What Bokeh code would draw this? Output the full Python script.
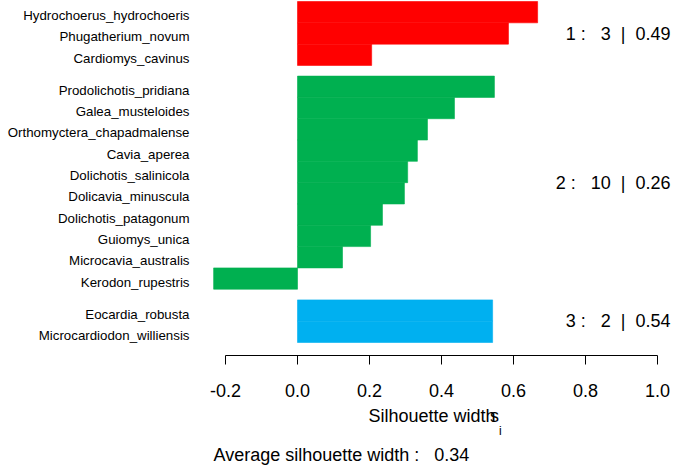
from bokeh.plotting import figure
from bokeh.models import Range1d, FixedTicker, ColumnDataSource
from bokeh.core.properties import value
from bokeh.embed import file_html
from bokeh.resources import INLINE

# ---- data ----
names_c1 = ["Hydrochoerus_hydrochoeris", "Phugatherium_novum", "Cardiomys_cavinus"]
sil_c1 = [0.667, 0.586, 0.206]

names_c2 = ["Prodolichotis_pridiana", "Galea_musteloides", "Orthomyctera_chapadmalense",
            "Cavia_aperea", "Dolichotis_salinicola", "Dolicavia_minuscula",
            "Dolichotis_patagonum", "Guiomys_unica", "Microcavia_australis",
            "Kerodon_rupestris"]
sil_c2 = [0.547, 0.436, 0.361, 0.333, 0.306, 0.297, 0.236, 0.203, 0.125, -0.233]

names_c3 = ["Eocardia_robusta", "Microcardiodon_williensis"]
sil_c3 = [0.542, 0.542]

cluster_ids = [1, 2, 3]
cluster_sizes = [3, 10, 2]
cluster_avg = ["0.49", "0.26", "0.54"]
overall_avg = "0.34"
cluster_colors = ["#FF0000", "#00B050", "#00B0F0"]

x_ticks = [-0.2, 0.0, 0.2, 0.4, 0.6, 0.8, 1.0]
x_tick_labels = ["-0.2", "0.0", "0.2", "0.4", "0.6", "0.8", "1.0"]
x_title = "Silhouette width"

# ---- layout ----
FONT = "Liberation Sans"
W, H = 673, 467
NB = "\u00a0"
U = 341 / 16.0          # pixels per bar unit
AXIS_Y = 354 / U        # axis line location in bar units
BIG_SHIFT = 7.5         # baseline correction for 18px texts (px)

clusters = [(names_c1, sil_c1), (names_c2, sil_c2), (names_c3, sil_c3)]
ys, names, vals, cols, centers = [], [], [], [], []
pos = 0.0
for k, (nm, sv) in enumerate(clusters):
    start = pos
    for n, s in zip(nm, sv):
        ys.append(pos + 0.5)
        names.append(n)
        vals.append(s)
        cols.append(cluster_colors[k])
        pos += 1
    centers.append((start + pos) / 2)
    pos += 0.5

src = ColumnDataSource(dict(y=ys, name=names, val=vals, color=cols,
                            ly=[y + 3.5 / U for y in ys]))

p = figure(width=W, height=H,
           x_range=Range1d(-297 / 360, (W - 297) / 360),
           y_range=Range1d((H - 1) / U, -1 / U),
           output_backend="svg", toolbar_location=None, y_axis_location=None,
           min_border_left=0, min_border_right=0, min_border_top=0,
           min_border_bottom=0)
p.outline_line_color = None
p.xgrid.visible = False
p.ygrid.visible = False
p.background_fill_color = "white"
p.border_fill_color = "white"

p.hbar(y="y", left=0, right="val", height=1, fill_color="color",
       line_color="color", line_width=0.6, source=src)

p.text(x=-0.3, y="ly", text="name", source=src, text_align="right",
       text_baseline="alphabetic", text_font=value(FONT), text_font_size="13.3px",
       text_color="#000000")

clabels = []
for cid, n, a in zip(cluster_ids, cluster_sizes, cluster_avg):
    clabels.append(f"{cid}{NB}:{NB}{NB}{NB}{n}{NB}{NB}|{NB}{NB}{a}")
p.text(x=[(670 - 297) / 360] * 3, y=[c + (7.6 - BIG_SHIFT) / U for c in centers],
       text=clabels, text_align="right", text_baseline="alphabetic",
       text_font=value(FONT), text_font_size="18px", text_color="#000000")

ax = p.xaxis[0]
ax.fixed_location = AXIS_Y
ax.bounds = (-0.2, 1.0)
ax.ticker = FixedTicker(ticks=x_ticks)
ax.major_label_overrides = {t: l for t, l in zip(x_ticks, x_tick_labels)}
ax.minor_tick_line_color = None
ax.major_tick_in = 0
ax.major_tick_out = 9
ax.major_label_standoff = 19
ax.major_label_text_font = FONT
ax.major_label_text_font_size = "18px"
ax.major_label_text_color = "#000000"
ax.axis_line_color = "#000000"
ax.major_tick_line_color = "#000000"

# axis title "Silhouette width s_i" (as drawn by R, with the s overlapping)
p.text(x=[(368 - 297) / 360], y=[(422 - BIG_SHIFT) / U], text=[x_title],
       text_align="left", text_baseline="alphabetic", text_font=value(FONT),
       text_font_size="18px", text_color="#000000")
p.text(x=[(489.5 - 297) / 360], y=[(422 - BIG_SHIFT) / U], text=["s"],
       text_align="left", text_baseline="alphabetic", text_font=value(FONT),
       text_font_size="18px", text_color="#000000")
p.text(x=[(498.5 - 297) / 360], y=[(434 - 5.0) / U], text=["i"],
       text_align="left", text_baseline="alphabetic", text_font=value(FONT),
       text_font_size="12px", text_color="#000000")

p.text(x=[(213 - 297) / 360], y=[(461 - BIG_SHIFT) / U],
       text=[f"Average silhouette width :{NB}{NB}{NB}{overall_avg}"],
       text_align="left", text_baseline="alphabetic", text_font=value(FONT),
       text_font_size="18px", text_color="#000000")

open("out.html", "w").write(file_html(p, INLINE))
